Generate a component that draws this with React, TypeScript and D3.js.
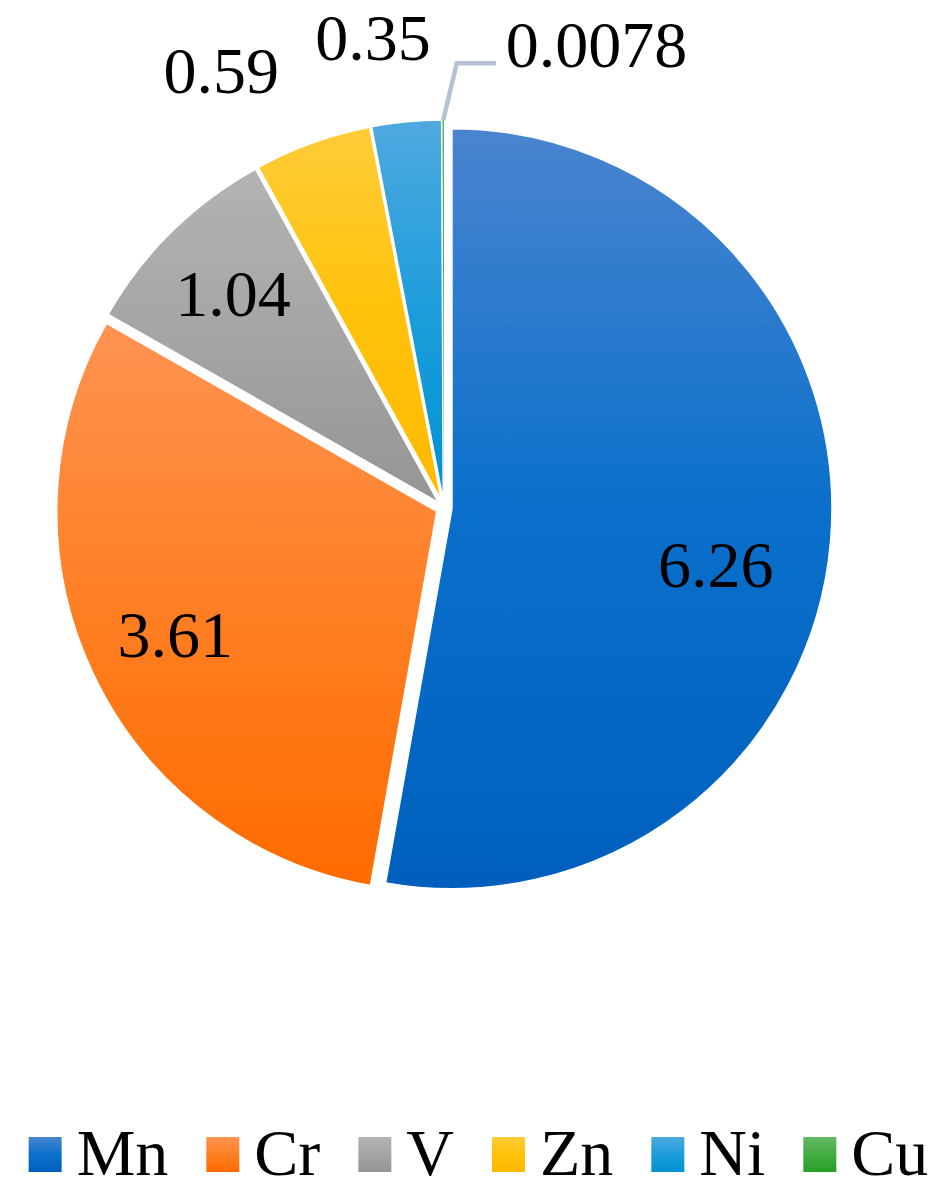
import React, { useEffect, useRef } from 'react';
import * as d3 from 'd3';

// ---- data ----
const categories: string[] = ['Mn', 'Cr', 'V', 'Zn', 'Ni', 'Cu'];
const values: number[] = [6.26, 3.61, 1.04, 0.59, 0.35, 0.0078];
const labelTexts: string[] = ['6.26', '3.61', '1.04', '0.59', '0.35', '0.0078'];

// ---- style ----
const gradientStops: string[][] = [
  ['#4a84cf', '#0a70cb', '#005fbd'],
  ['#ff9352', '#ff7f24', '#ff6b00'],
  ['#b3b3b3', '#a5a5a5', '#959595'],
  ['#ffcc38', '#ffc20a', '#ffb900'],
  ['#4fa9df', '#1d9ddb', '#0092d2'],
  ['#64b964', '#43ac43', '#279f27'],
];
// label placement: radius factor & angle shift (deg) relative to slice mid-angle
const labelRadius: number[] = [0.71, 0.76, 0.77, 1.27, 1.23, 1.15];
const labelAngleShift: number[] = [7, 0, 0, -7.3, -3.1, 1.8];

const W = 951;
const H = 1197;
const FONT = '"Liberation Serif", "Times New Roman", serif';
const FS = 66;

export default function App() {
  const ref = useRef<SVGSVGElement | null>(null);

  useEffect(() => {
    document.body.style.margin = '0';
    const svg = d3.select(ref.current);
    svg.selectAll('*').remove();

    const cx = 444;
    const cy = 508;
    const R = 380;
    const explode = 8;

    const defs = svg.append('defs');
    gradientStops.forEach((stops, i) => {
      const g = defs
        .append('linearGradient')
        .attr('id', `grad${i}`)
        .attr('x1', 0)
        .attr('y1', 0)
        .attr('x2', 0)
        .attr('y2', 1);
      stops.forEach((c, k) => {
        g.append('stop')
          .attr('offset', `${(k / (stops.length - 1)) * 100}%`)
          .attr('stop-color', c);
      });
    });

    const pie = d3
      .pie<number>()
      .sort(null)
      .value((d) => d)
      .startAngle(0)
      .endAngle(Math.PI * 2);
    const arcs = pie(values);
    const arc = d3.arc<d3.PieArcDatum<number>>().innerRadius(0).outerRadius(R);

    const gPie = svg.append('g').attr('transform', `translate(${cx},${cy})`);

    const offsets = arcs.map((a) => {
      const mid = (a.startAngle + a.endAngle) / 2;
      return [explode * Math.sin(mid), -explode * Math.cos(mid)];
    });

    gPie
      .selectAll('path.slice')
      .data(arcs)
      .join('path')
      .attr('class', 'slice')
      .attr('transform', (_d, i) => `translate(${offsets[i][0]},${offsets[i][1]})`)
      .attr('d', arc)
      .attr('fill', (_d, i) => `url(#grad${i})`)
      .attr('stroke', '#ffffff')
      .attr('stroke-width', (d) => (d.endAngle - d.startAngle < 0.02 ? 0 : 1.5))
      .attr('stroke-linejoin', 'round');

    // labels
    const polar = (i: number, rf: number, shiftDeg: number) => {
      const a = arcs[i];
      const mid = (a.startAngle + a.endAngle) / 2 + (shiftDeg * Math.PI) / 180;
      const r = R * rf;
      return [offsets[i][0] + r * Math.sin(mid), offsets[i][1] - r * Math.cos(mid)];
    };

    const cuIndex = categories.length - 1;
    arcs.forEach((a, i) => {
      if (i === cuIndex) return;
      const [x, y] = polar(i, labelRadius[i], labelAngleShift[i]);
      gPie
        .append('text')
        .attr('x', x)
        .attr('y', y + FS * 0.34)
        .attr('text-anchor', 'middle')
        .attr('font-family', FONT)
        .attr('font-size', FS)
        .attr('fill', '#000')
        .text(labelTexts[i]);
    });

    // Cu leader line + label
    {
      const i = cuIndex;
      const a = arcs[i];
      const mid = (a.startAngle + a.endAngle) / 2;
      const sx = offsets[i][0] + R * Math.sin(mid);
      const sy = offsets[i][1] - R * Math.cos(mid);
      const [ex, ey] = polar(i, labelRadius[i], labelAngleShift[i]);
      const hx = ex + 39;
      gPie
        .append('path')
        .attr('d', d3.line()([[sx, sy], [ex, ey], [hx, ey]]) as string)
        .attr('fill', 'none')
        .attr('stroke', '#b4c3d3')
        .attr('stroke-width', 4.5);
      gPie
        .append('text')
        .attr('x', hx + 10)
        .attr('y', ey + 4)
        .attr('text-anchor', 'start')
        .attr('font-family', FONT)
        .attr('font-size', FS)
        .attr('fill', '#000')
        .text(labelTexts[i]);
    }

    // legend
    const swW = 33;
    const swH = 35;
    const textGap = 15;
    const itemGap = 38;
    const baseline = 1175;
    const legend = svg.append('g');
    const items = categories.map((c, i) => {
      const g = legend.append('g');
      g.append('rect')
        .attr('x', 0)
        .attr('y', baseline - 38)
        .attr('width', swW)
        .attr('height', swH)
        .attr('fill', `url(#grad${i})`);
      const t = g
        .append('text')
        .attr('x', swW + textGap)
        .attr('y', baseline)
        .attr('font-family', FONT)
        .attr('font-size', FS)
        .attr('fill', '#000')
        .text(c);
      const tw = (t.node() as SVGTextElement).getComputedTextLength();
      return { g, w: swW + textGap + tw };
    });
    const total = items.reduce((s, it) => s + it.w, 0) + itemGap * (items.length - 1);
    let x = (W - total) / 2 + 3;
    items.forEach((it) => {
      it.g.attr('transform', `translate(${x},0)`);
      x += it.w + itemGap;
    });
  }, []);

  return (
    <svg
      ref={ref}
      width={W}
      height={H}
      viewBox={`0 0 ${W} ${H}`}
      style={{ display: 'block', background: '#fff' }}
    />
  );
}
